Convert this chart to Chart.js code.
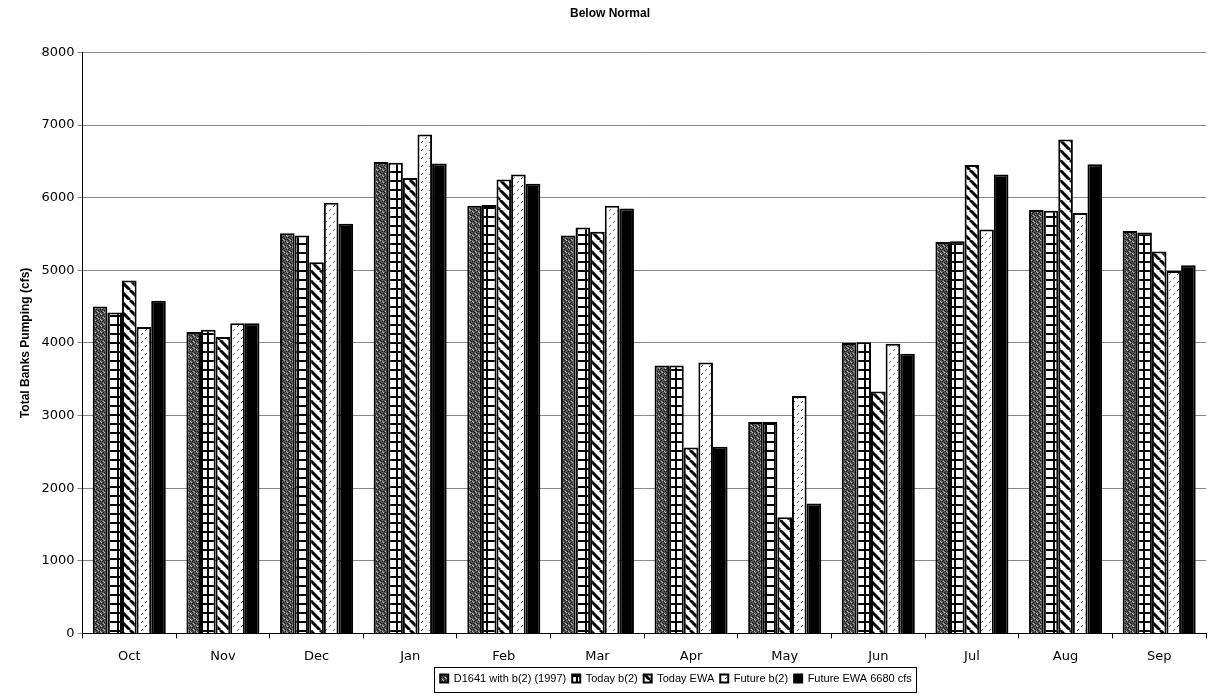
<!DOCTYPE html>
<html>
<head>
<meta charset="utf-8">
<script src="https://cdn.jsdelivr.net/npm/chart.js@4/dist/chart.umd.min.js"></script>
<style>
  html, body { margin: 0; padding: 0; background: #fff; }
  #wrap { width: 1210px; height: 696px; }
</style>
</head>
<body>
<div id="wrap"><canvas id="chart"></canvas></div>
<script>
var months = ['Oct', 'Nov', 'Dec', 'Jan', 'Feb', 'Mar', 'Apr', 'May', 'Jun', 'Jul', 'Aug', 'Sep'];
var seriesNames = ['D1641 with b(2) (1997)', 'Today b(2)', 'Today EWA', 'Future b(2)', 'Future EWA 6680 cfs'];

var d1641 = [4500, 4150, 5510, 6490, 5890, 5480, 3690, 2910, 4000, 5390, 5830, 5540];
var todayB2 = [4420, 4180, 5480, 6480, 5900, 5590, 3690, 2910, 4010, 5400, 5820, 5520];
var todayEwa = [4860, 4080, 5110, 6270, 6250, 5530, 2560, 1600, 3330, 6450, 6800, 5260];
var futureB2 = [4220, 4270, 5930, 6870, 6320, 5890, 3730, 3270, 3990, 5560, 5790, 4990];
var futureEwa = [4580, 4270, 5640, 6470, 6190, 5850, 2570, 1790, 3850, 6320, 6460, 5070];

var yTicks = [0, 1000, 2000, 3000, 4000, 5000, 6000, 7000, 8000];

// --- fill patterns, like the old b/w print ---
function makePattern(size, draw) {
    var c = document.createElement('canvas');
    c.width = size;
    c.height = size;
    var g = c.getContext('2d');
    draw(g, size);
    return g.createPattern(c, 'repeat');
}

var ctx = document.getElementById('chart').getContext('2d');

var stipple = makePattern(6, function (g, s) {
    g.fillStyle = '#555';
    g.fillRect(0, 0, s, s);
    g.fillStyle = '#111';
    [[0, 0], [3, 1], [1, 2], [4, 3], [2, 4], [5, 5], [0, 3], [3, 5]].forEach(function (p) {
        g.fillRect(p[0], p[1], 1, 1);
    });
    g.fillStyle = '#bbb';
    [[2, 0], [5, 2], [1, 5], [4, 1]].forEach(function (p) {
        g.fillRect(p[0], p[1], 1, 1);
    });
});

var grid = makePattern(9, function (g, s) {
    g.fillStyle = '#fff';
    g.fillRect(0, 0, s, s);
    g.fillStyle = '#000';
    g.fillRect(0, 0, s, 2);
    g.fillRect(0, 0, 2, s);
});

var stripes = makePattern(10, function (g, s) {
    g.fillStyle = '#fff';
    g.fillRect(0, 0, s, s);
    g.strokeStyle = '#000';
    g.lineWidth = 3;
    g.beginPath();
    for (var k = -s; k <= s * 2; k += s) {
        g.moveTo(k, 0);
        g.lineTo(k + s, s);
    }
    g.stroke();
});

var dashes = makePattern(8, function (g, s) {
    g.fillStyle = '#fff';
    g.fillRect(0, 0, s, s);
    g.strokeStyle = '#666';
    g.lineWidth = 1;
    g.beginPath();
    g.moveTo(1, 3); g.lineTo(3, 1);
    g.moveTo(5, 7); g.lineTo(7, 5);
    g.stroke();
});

var fills = [stipple, grid, stripes, dashes, '#000'];
var values = [d1641, todayB2, todayEwa, futureB2, futureEwa];

var legendShift = 66;

// move the legend to the right a bit and box it in
var legendBox = {
    id: 'legendBox',
    afterLayout: function (chart) {
        var lg = chart.legend;
        if (!lg) { return; }
        lg.left += legendShift;
        lg.right += legendShift;
    },
    afterDraw: function (chart) {
        var lg = chart.legend;
        if (!lg || !lg.lineWidths || !lg.legendHitBoxes.length) { return; }
        var w = lg.lineWidths[0];
        var cx = (lg.left + lg.right) / 2;
        var hb = lg.legendHitBoxes[0];
        var cy = hb.top + hb.height / 2;
        var c = chart.ctx;
        c.save();
        c.strokeStyle = '#000';
        c.lineWidth = 1;
        c.strokeRect(Math.round(cx - w / 2) - 2.5, Math.round(cy - 12) + 0.5, Math.round(w) + 4, 25);
        c.restore();
    }
};

var font = 'Liberation Sans, Arial, sans-serif';
var wide = 'DejaVu Sans, Verdana, sans-serif';

new Chart(ctx, {
    type: 'bar',
    data: {
        labels: months,
        datasets: seriesNames.map(function (name, i) {
            return {
                label: name,
                data: values[i],
                backgroundColor: fills[i],
                borderColor: '#000',
                borderWidth: 2,
                barPercentage: 1.0,
                categoryPercentage: 0.78
            };
        })
    },
    options: {
        responsive: true,
        maintainAspectRatio: false,
        animation: false,
        layout: { padding: { left: 14, right: 4, top: 0, bottom: 2 } },
        plugins: {
            title: {
                display: true,
                text: 'Below Normal',
                color: '#000',
                font: { family: font, size: 12, weight: 'bold' },
                padding: { top: 6, bottom: 32 }
            },
            legend: {
                position: 'bottom',
                labels: {
                    color: '#000',
                    font: { family: font, size: 11 },
                    boxWidth: 8,
                    boxHeight: 8,
                    padding: 6
                }
            },
            tooltip: { enabled: false }
        },
        scales: {
            x: {
                // pull the legend up closer to the month labels
                afterFit: function (axis) { axis.height -= 7; },
                grid: { display: true, drawOnChartArea: false, color: '#000', tickLength: 5, offset: true },
                border: { color: '#000', width: 1 },
                ticks: { color: '#000', font: { family: wide, size: 13 }, padding: 10 }
            },
            y: {
                min: 0,
                max: 8000,
                afterBuildTicks: function (axis) {
                    axis.ticks = yTicks.map(function (v) { return { value: v }; });
                },
                grid: { color: '#888', tickLength: 5 },
                border: { color: '#000', width: 1 },
                ticks: {
                    color: '#000',
                    font: { family: wide, size: 13 },
                    padding: 3,
                    callback: function (v) { return String(v); }
                },
                title: {
                    display: true,
                    text: 'Total Banks Pumping (cfs)',
                    color: '#000',
                    font: { family: font, size: 12, weight: 'bold' },
                    padding: { bottom: 6 }
                }
            }
        }
    },
    plugins: [legendBox]
});
</script>
</body>
</html>
